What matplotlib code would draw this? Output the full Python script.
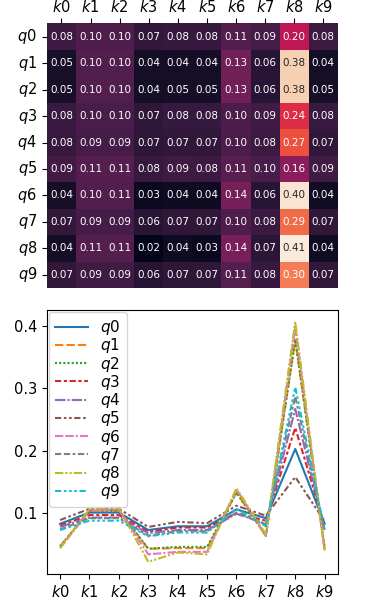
import matplotlib
matplotlib.use("Agg")
import matplotlib.pyplot as plt
import numpy as np
import pandas as pd
import seaborn as sns

# ----------------------------------------------------------------------
# Data (rows q0..q9, columns k0..k9)
# ----------------------------------------------------------------------
k_labels = [f"$k{i}$" for i in range(10)]
q_labels = [f"$q{i}$" for i in range(10)]

q0 = [0.083, 0.101, 0.101, 0.073, 0.079, 0.079, 0.106, 0.092, 0.203, 0.083]
q1 = [0.047, 0.104, 0.104, 0.043, 0.044, 0.044, 0.133, 0.064, 0.378, 0.042]
q2 = [0.047, 0.104, 0.104, 0.043, 0.046, 0.046, 0.133, 0.064, 0.378, 0.046]
q3 = [0.080, 0.097, 0.097, 0.070, 0.077, 0.077, 0.100, 0.088, 0.237, 0.080]
q4 = [0.078, 0.093, 0.093, 0.068, 0.073, 0.073, 0.099, 0.083, 0.267, 0.073]
q5 = [0.089, 0.107, 0.107, 0.078, 0.086, 0.084, 0.112, 0.096, 0.158, 0.087]
q6 = [0.044, 0.104, 0.106, 0.034, 0.038, 0.038, 0.138, 0.063, 0.398, 0.040]
q7 = [0.074, 0.092, 0.092, 0.064, 0.071, 0.071, 0.101, 0.082, 0.287, 0.072]
q8 = [0.044, 0.107, 0.108, 0.022, 0.037, 0.034, 0.140, 0.066, 0.407, 0.040]
q9 = [0.073, 0.088, 0.088, 0.063, 0.069, 0.069, 0.107, 0.079, 0.302, 0.072]

scores = pd.DataFrame([q0, q1, q2, q3, q4, q5, q6, q7, q8, q9],
                      index=q_labels, columns=k_labels)

plt.rcParams["font.size"] = 10.5

# ----------------------------------------------------------------------
# Figure
# ----------------------------------------------------------------------
fig = plt.figure(figsize=(3.75, 5.99), dpi=100)
ax_hm = fig.add_axes([0.125, 0.519, 0.776, 0.442])
ax_ln = fig.add_axes([0.125, 0.042, 0.776, 0.441])

sns.heatmap(scores, ax=ax_hm, cmap="rocket", cbar=False, annot=True,
            fmt=".2f", annot_kws={"fontsize": 7.5})
ax_hm.xaxis.tick_top()
ax_hm.tick_params(axis="x", pad=2.5)
ax_hm.set_yticklabels(q_labels, rotation=0)
ax_hm.set_xticklabels(k_labels, rotation=0)

sns.lineplot(data=scores.T, ax=ax_ln)
ax_ln.set_yticks([0.1, 0.2, 0.3, 0.4])
ax_ln.legend(loc="upper left", fontsize=11, labelspacing=-0.05,
             handlelength=2.15, borderaxespad=0.15)

fig.savefig("out.png", dpi=100)
